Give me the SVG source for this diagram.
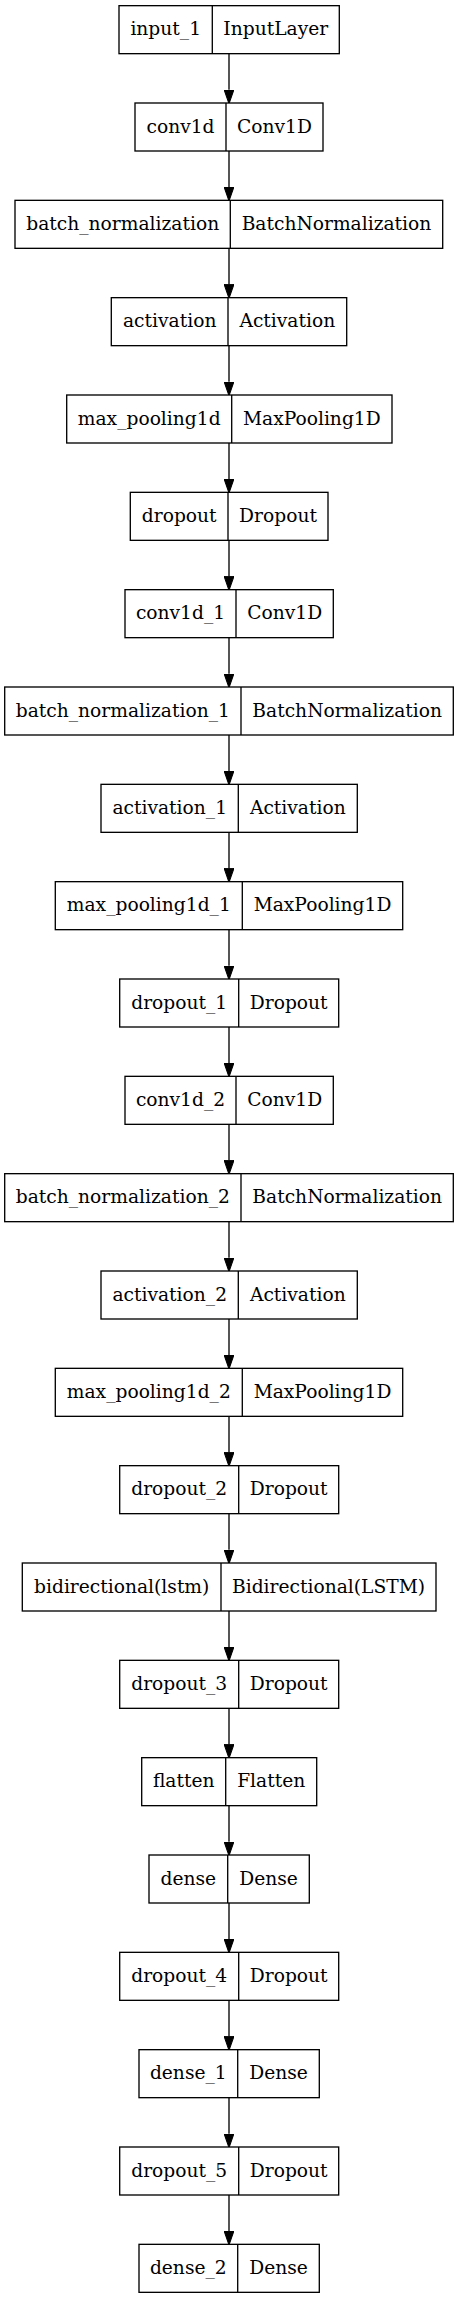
<svg xmlns="http://www.w3.org/2000/svg" width="459" height="2299" viewBox="0 0 459 2299">
<style>
.box{fill:#fff;stroke:#000;stroke-width:1.33}
.div{stroke:#000;stroke-width:1.33}
.edge{stroke:#000;stroke-width:1.33;fill:none}
text{font-family:"DejaVu Serif","Liberation Serif",serif;font-size:18.67px;fill:#000;text-anchor:middle}
</style>
<defs>
<marker id="arr" markerUnits="userSpaceOnUse" markerWidth="14" markerHeight="10" viewBox="0 0 13.33 9.33" refX="0" refY="4.67" orient="auto">
<path d="M0,0 L13.33,4.67 L0,9.33 z" fill="#000" stroke="#000" stroke-width="1"/>
</marker>
</defs>
<rect width="459" height="2299" fill="#fff"/>
<g id="connectors">
<path class="edge" marker-end="url(#arr)" d="M229,53.67 V89.67"/>
<path class="edge" marker-end="url(#arr)" d="M229,151 V187"/>
<path class="edge" marker-end="url(#arr)" d="M229,248.33 V284.33"/>
<path class="edge" marker-end="url(#arr)" d="M229,345.67 V381.67"/>
<path class="edge" marker-end="url(#arr)" d="M229,443 V479"/>
<path class="edge" marker-end="url(#arr)" d="M229,540.33 V576.33"/>
<path class="edge" marker-end="url(#arr)" d="M229,637.67 V673.67"/>
<path class="edge" marker-end="url(#arr)" d="M229,735 V771"/>
<path class="edge" marker-end="url(#arr)" d="M229,832.33 V868.33"/>
<path class="edge" marker-end="url(#arr)" d="M229,929.67 V965.67"/>
<path class="edge" marker-end="url(#arr)" d="M229,1027 V1063"/>
<path class="edge" marker-end="url(#arr)" d="M229,1124.33 V1160.33"/>
<path class="edge" marker-end="url(#arr)" d="M229,1221.67 V1257.67"/>
<path class="edge" marker-end="url(#arr)" d="M229,1319 V1355"/>
<path class="edge" marker-end="url(#arr)" d="M229,1416.33 V1452.33"/>
<path class="edge" marker-end="url(#arr)" d="M229,1513.67 V1549.67"/>
<path class="edge" marker-end="url(#arr)" d="M229,1611 V1647"/>
<path class="edge" marker-end="url(#arr)" d="M229,1708.33 V1744.33"/>
<path class="edge" marker-end="url(#arr)" d="M229,1805.67 V1841.67"/>
<path class="edge" marker-end="url(#arr)" d="M229,1903 V1939"/>
<path class="edge" marker-end="url(#arr)" d="M229,2000.33 V2036.33"/>
<path class="edge" marker-end="url(#arr)" d="M229,2097.67 V2133.67"/>
<path class="edge" marker-end="url(#arr)" d="M229,2195 V2231"/>
</g>
<g id="input_1"><rect class="box" x="119" y="5.67" width="220.3" height="48"/><line class="div" x1="212.3" y1="5.67" x2="212.3" y2="53.67"/><text x="165.7" y="35.27">input_1</text><text x="275.8" y="35.27">InputLayer</text></g>
<g id="conv1d"><rect class="box" x="135" y="103" width="188" height="48"/><line class="div" x1="226" y1="103" x2="226" y2="151"/><text x="180.5" y="132.6">conv1d</text><text x="274.5" y="132.6">Conv1D</text></g>
<g id="batch_normalization"><rect class="box" x="15" y="200.33" width="427.7" height="48"/><line class="div" x1="230.3" y1="200.33" x2="230.3" y2="248.33"/><text x="122.7" y="229.93">batch_normalization</text><text x="336.5" y="229.93">BatchNormalization</text></g>
<g id="activation"><rect class="box" x="111.3" y="297.67" width="235.4" height="48"/><line class="div" x1="228" y1="297.67" x2="228" y2="345.67"/><text x="169.7" y="327.27">activation</text><text x="287.3" y="327.27">Activation</text></g>
<g id="max_pooling1d"><rect class="box" x="66.7" y="395" width="325.3" height="48"/><line class="div" x1="231.7" y1="395" x2="231.7" y2="443"/><text x="149.2" y="424.6">max_pooling1d</text><text x="311.8" y="424.6">MaxPooling1D</text></g>
<g id="dropout"><rect class="box" x="130.3" y="492.33" width="197.7" height="48"/><line class="div" x1="228" y1="492.33" x2="228" y2="540.33"/><text x="179.2" y="521.93">dropout</text><text x="278" y="521.93">Dropout</text></g>
<g id="conv1d_1"><rect class="box" x="125" y="589.67" width="208.3" height="48"/><line class="div" x1="236" y1="589.67" x2="236" y2="637.67"/><text x="180.5" y="619.27">conv1d_1</text><text x="284.7" y="619.27">Conv1D</text></g>
<g id="batch_normalization_1"><rect class="box" x="4.7" y="687" width="448.6" height="48"/><line class="div" x1="241" y1="687" x2="241" y2="735"/><text x="122.8" y="716.6">batch_normalization_1</text><text x="347.2" y="716.6">BatchNormalization</text></g>
<g id="activation_1"><rect class="box" x="101" y="784.33" width="256.3" height="48"/><line class="div" x1="238.3" y1="784.33" x2="238.3" y2="832.33"/><text x="169.7" y="813.93">activation_1</text><text x="297.8" y="813.93">Activation</text></g>
<g id="max_pooling1d_1"><rect class="box" x="55.3" y="881.67" width="347.4" height="48"/><line class="div" x1="242.3" y1="881.67" x2="242.3" y2="929.67"/><text x="148.8" y="911.27">max_pooling1d_1</text><text x="322.5" y="911.27">MaxPooling1D</text></g>
<g id="dropout_1"><rect class="box" x="119.7" y="979" width="219" height="48"/><line class="div" x1="238.7" y1="979" x2="238.7" y2="1027"/><text x="179.2" y="1008.6">dropout_1</text><text x="288.7" y="1008.6">Dropout</text></g>
<g id="conv1d_2"><rect class="box" x="125" y="1076.33" width="208.3" height="48"/><line class="div" x1="236" y1="1076.33" x2="236" y2="1124.33"/><text x="180.5" y="1105.93">conv1d_2</text><text x="284.7" y="1105.93">Conv1D</text></g>
<g id="batch_normalization_2"><rect class="box" x="4.7" y="1173.67" width="448.6" height="48"/><line class="div" x1="241" y1="1173.67" x2="241" y2="1221.67"/><text x="122.8" y="1203.27">batch_normalization_2</text><text x="347.2" y="1203.27">BatchNormalization</text></g>
<g id="activation_2"><rect class="box" x="101" y="1271" width="256.3" height="48"/><line class="div" x1="238.3" y1="1271" x2="238.3" y2="1319"/><text x="169.7" y="1300.6">activation_2</text><text x="297.8" y="1300.6">Activation</text></g>
<g id="max_pooling1d_2"><rect class="box" x="55.3" y="1368.33" width="347.4" height="48"/><line class="div" x1="242.3" y1="1368.33" x2="242.3" y2="1416.33"/><text x="148.8" y="1397.93">max_pooling1d_2</text><text x="322.5" y="1397.93">MaxPooling1D</text></g>
<g id="dropout_2"><rect class="box" x="119.7" y="1465.67" width="219" height="48"/><line class="div" x1="238.7" y1="1465.67" x2="238.7" y2="1513.67"/><text x="179.2" y="1495.27">dropout_2</text><text x="288.7" y="1495.27">Dropout</text></g>
<g id="bidirectional_lstm"><rect class="box" x="22.3" y="1563" width="413.7" height="48"/><line class="div" x1="221" y1="1563" x2="221" y2="1611"/><text x="121.7" y="1592.6">bidirectional(lstm)</text><text x="328.5" y="1592.6">Bidirectional(LSTM)</text></g>
<g id="dropout_3"><rect class="box" x="119.7" y="1660.33" width="219" height="48"/><line class="div" x1="238.7" y1="1660.33" x2="238.7" y2="1708.33"/><text x="179.2" y="1689.93">dropout_3</text><text x="288.7" y="1689.93">Dropout</text></g>
<g id="flatten"><rect class="box" x="141.7" y="1757.67" width="175" height="48"/><line class="div" x1="225.7" y1="1757.67" x2="225.7" y2="1805.67"/><text x="183.7" y="1787.27">flatten</text><text x="271.2" y="1787.27">Flatten</text></g>
<g id="dense"><rect class="box" x="149" y="1855" width="160.3" height="48"/><line class="div" x1="227.7" y1="1855" x2="227.7" y2="1903"/><text x="188.3" y="1884.6">dense</text><text x="268.5" y="1884.6">Dense</text></g>
<g id="dropout_4"><rect class="box" x="119.7" y="1952.33" width="219" height="48"/><line class="div" x1="238.7" y1="1952.33" x2="238.7" y2="2000.33"/><text x="179.2" y="1981.93">dropout_4</text><text x="288.7" y="1981.93">Dropout</text></g>
<g id="dense_1"><rect class="box" x="139" y="2049.67" width="180.3" height="48"/><line class="div" x1="237.7" y1="2049.67" x2="237.7" y2="2097.67"/><text x="188.3" y="2079.27">dense_1</text><text x="278.5" y="2079.27">Dense</text></g>
<g id="dropout_5"><rect class="box" x="119.7" y="2147" width="219" height="48"/><line class="div" x1="238.7" y1="2147" x2="238.7" y2="2195"/><text x="179.2" y="2176.6">dropout_5</text><text x="288.7" y="2176.6">Dropout</text></g>
<g id="dense_2"><rect class="box" x="139" y="2244.33" width="180.3" height="48"/><line class="div" x1="237.7" y1="2244.33" x2="237.7" y2="2292.33"/><text x="188.3" y="2273.93">dense_2</text><text x="278.5" y="2273.93">Dense</text></g>
</svg>
